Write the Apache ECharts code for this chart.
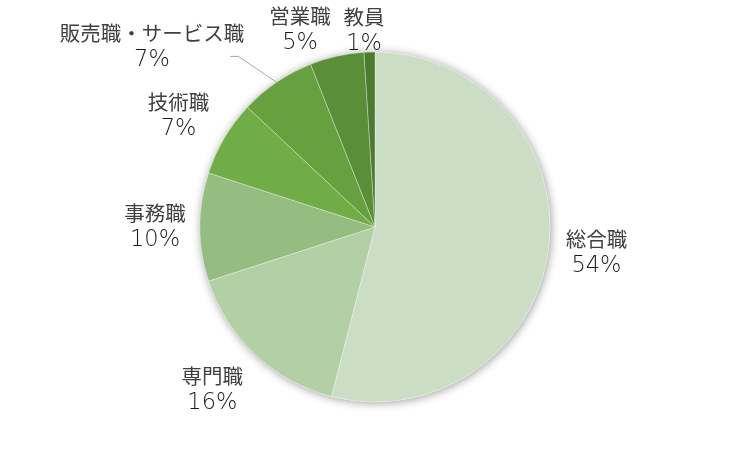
<!DOCTYPE html>
<html>
<head>
<meta charset="utf-8">
<script src="https://cdn.jsdelivr.net/npm/echarts@6/dist/echarts.min.js"></script>
<style>html,body{margin:0;padding:0;background:#fff}#c{width:750px;height:451px}</style>
</head>
<body>
<div id="c"></div>
<script>
// ---- data ----
var categories = ['総合職', '専門職', '事務職', '技術職', '販売職・サービス職', '営業職', '教員'];
var values = [54, 16, 10, 7, 7, 5, 1];
var colors = ['#ccddc5', '#b3cfa5', '#95bd81', '#70ad47', '#67a03f', '#5a8e39', '#4c7b30'];

// label placement: angular shift (deg) and distance from centre (px)
var labelAngleShift = [-0.5, 1.8, 0, -1.0, -16.8, -8.2, -1.4];
var labelDist = [223, 230, 220, 226, 287, 211, 197];

var CX = 375, CY = 227, R = 175;
var total = values.reduce(function (a, b) { return a + b; }, 0);
var midAngles = [];
(function () {
  var acc = 0;
  for (var i = 0; i < values.length; i++) {
    midAngles.push((acc + values[i] / 2) / total * 360);
    acc += values[i];
  }
})();
function polar(deg, r) {
  var a = deg * Math.PI / 180;
  return [CX + r * Math.sin(a), CY - r * Math.cos(a)];
}

var chart = echarts.init(document.getElementById('c'), null, { renderer: 'canvas' });
var data = categories.map(function (n, i) {
  return {
    name: n,
    value: values[i],
    itemStyle: { color: colors[i] },
    labelLine: { show: i === 4 }
  };
});

chart.setOption({
  animation: false,
  series: [
    {
      type: 'pie',
      silent: true,
      center: [CX, CY],
      radius: [0, R],
      z: 1,
      label: { show: false },
      labelLine: { show: false },
      itemStyle: { color: '#ffffff', shadowBlur: 10, shadowColor: 'rgba(0,0,0,0.4)', shadowOffsetX: 1, shadowOffsetY: 1 },
      data: [{ value: 1, name: '' }]
    },
    {
      type: 'pie',
      z: 2,
      center: [CX, CY],
      radius: [0, R],
      startAngle: 90,
      clockwise: true,
      percentPrecision: 0,
      avoidLabelOverlap: false,
      itemStyle: { borderColor: 'rgba(255,255,255,0.45)', borderWidth: 0.7 },
      label: {
        show: true,
        position: 'outside',
        formatter: '{n|{b}}\n{p|{d}%}',
        color: '#404040',
        rich: {
          n: { fontFamily: '"Noto Sans CJK JP", sans-serif', fontSize: 20.5, lineHeight: 27, color: '#404040' },
          p: { fontFamily: '"DejaVu Sans", sans-serif', fontSize: 22.5, fontWeight: 300, lineHeight: 27, color: '#1a1a1a' }
        }
      },
      labelLine: { show: false, length: 10, length2: 10, lineStyle: { color: '#a6a6a6', width: 1 } },
      labelLayout: function (p) {
        var i = p.dataIndex;
        var pos = polar(midAngles[i] + labelAngleShift[i], labelDist[i]);
        var res = { x: pos[0], y: pos[1], align: 'center', verticalAlign: 'middle' };
        if (i === 4) {
          var start = polar(midAngles[i], R);
          var w = p.labelRect.width;
          var endX = pos[0] + w / 2 - 14;
          var endY = pos[1] + 10;
          res.labelLinePoints = [start, [endX + 8, endY], [endX, endY]];
        }
        return res;
      },
      data: data
    }
  ]
});
</script>
</body>
</html>
